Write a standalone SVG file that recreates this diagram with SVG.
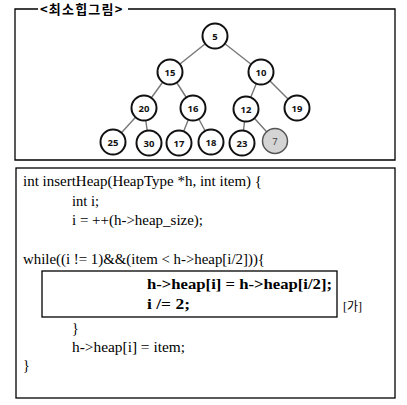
<svg xmlns="http://www.w3.org/2000/svg" width="407" height="405" viewBox="0 0 407 405">
<style>
.frame{fill:none;stroke:#000;stroke-width:1.3}
.node circle{fill:#fff;stroke:#111;stroke-width:2}
.node text{font-family:"Noto Sans","DejaVu Sans",sans-serif;font-weight:bold;font-size:9.5px;text-anchor:middle;fill:#111}
.edge{stroke:#777;stroke-width:1.4}
.code{font-family:"Liberation Serif","Noto Sans CJK KR",serif;font-size:14px;fill:#000}
.b{font-weight:bold}
</style>
<rect width="407" height="405" fill="#fff"/>
<path class="frame" d="M38,9 H15 V160 H395 V9 H128"/>
<text x="40" y="14" style="font-family:'Noto Sans CJK KR',sans-serif;font-weight:bold;font-size:13px;letter-spacing:1.2px">&lt;최소힙그림&gt;</text>
<g id="connectors">
<line class="edge" x1="215" y1="36" x2="170" y2="72"/>
<line class="edge" x1="215" y1="36" x2="261" y2="72"/>
<line class="edge" x1="170" y1="72" x2="144" y2="108"/>
<line class="edge" x1="170" y1="72" x2="193" y2="108"/>
<line class="edge" x1="261" y1="72" x2="246" y2="109"/>
<line class="edge" x1="261" y1="72" x2="297" y2="108"/>
<line class="edge" x1="144" y1="108" x2="113" y2="142"/>
<line class="edge" x1="144" y1="108" x2="149" y2="143"/>
<line class="edge" x1="193" y1="108" x2="179" y2="143"/>
<line class="edge" x1="193" y1="108" x2="211" y2="142"/>
<line class="edge" x1="246" y1="109" x2="242" y2="143"/>
<line class="edge" x1="246" y1="109" x2="275" y2="141"/>
</g>
<g id="n5" class="node"><circle cx="215" cy="36" r="12.5"/><text x="215" y="39.5">5</text></g>
<g id="n15" class="node"><circle cx="170" cy="72" r="12.5"/><text x="170" y="75.5">15</text></g>
<g id="n10" class="node"><circle cx="261" cy="72" r="12.5"/><text x="261" y="75.5">10</text></g>
<g id="n20" class="node"><circle cx="144" cy="108" r="12.5"/><text x="144" y="111.5">20</text></g>
<g id="n16" class="node"><circle cx="193" cy="108" r="12.5"/><text x="193" y="111.5">16</text></g>
<g id="n12" class="node"><circle cx="246" cy="109" r="12.5"/><text x="246" y="112.5">12</text></g>
<g id="n19" class="node"><circle cx="297" cy="108" r="12.5"/><text x="297" y="111.5">19</text></g>
<g id="n25" class="node"><circle cx="113" cy="142" r="12.5"/><text x="113" y="145.5">25</text></g>
<g id="n30" class="node"><circle cx="149" cy="143" r="12.5"/><text x="149" y="146.5">30</text></g>
<g id="n17" class="node"><circle cx="179" cy="143" r="12.5"/><text x="179" y="146.5">17</text></g>
<g id="n18" class="node"><circle cx="211" cy="142" r="12.5"/><text x="211" y="145.5">18</text></g>
<g id="n23" class="node"><circle cx="242" cy="143" r="12.5"/><text x="242" y="146.5">23</text></g>
<g id="n7" class="node"><circle cx="275" cy="141" r="12.5" style="fill:#d4d4d4;stroke:#555;stroke-width:1.5"/><text x="275" y="144.5" style="font-weight:normal;fill:#444">7</text></g>
<rect class="frame" x="16" y="168" width="379" height="230"/>
<rect class="frame" x="42" y="271" width="295" height="46"/>
<g id="code" class="code">
<text x="23" y="186" textLength="239" lengthAdjust="spacingAndGlyphs">int insertHeap(HeapType *h, int item) {</text>
<text x="72" y="206" textLength="27" lengthAdjust="spacingAndGlyphs">int i;</text>
<text x="72" y="225" textLength="131" lengthAdjust="spacingAndGlyphs">i = ++(h-&gt;heap_size);</text>
<text x="23" y="264" textLength="242" lengthAdjust="spacingAndGlyphs">while((i != 1)&amp;&amp;(item &lt; h-&gt;heap[i/2])){</text>
<text class="b" x="147" y="289" textLength="185" lengthAdjust="spacingAndGlyphs">h-&gt;heap[i] = h-&gt;heap[i/2];</text>
<text class="b" x="147" y="309" textLength="43" lengthAdjust="spacingAndGlyphs">i /= 2;</text>
<text x="343" y="311" style="font-size:12px">[가]</text>
<text x="72" y="333">}</text>
<text x="72" y="352" textLength="113" lengthAdjust="spacingAndGlyphs">h-&gt;heap[i] = item;</text>
<text x="23" y="370">}</text>
</g>
</svg>
